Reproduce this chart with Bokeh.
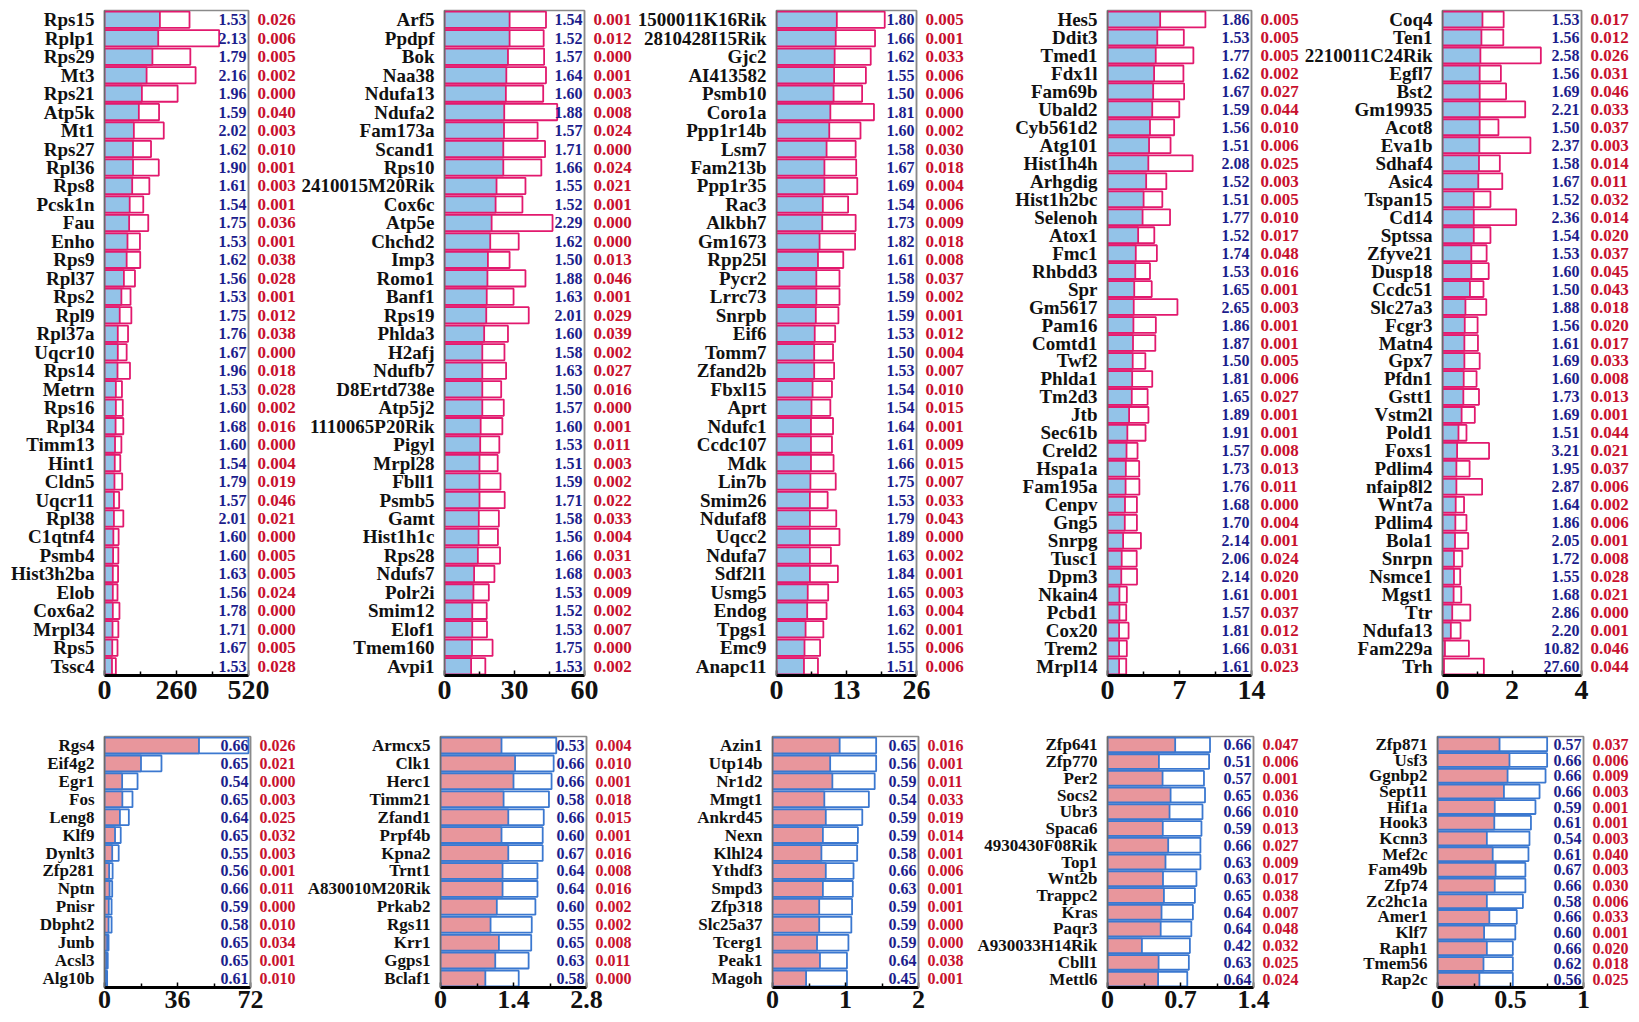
from bokeh.plotting import figure
from bokeh.models import Range1d, FixedTicker, LinearAxis, ColumnDataSource
from bokeh.layouts import row, column
from bokeh.embed import file_html
from bokeh.resources import INLINE
from bokeh.core.properties import value

# ---------------- data: up-regulated (top row) ----------------
p1_genes = ["Rps15", "Rplp1", "Rps29", "Mt3", "Rps21", "Atp5k", "Mt1", "Rps27", "Rpl36", "Rps8",
            "Pcsk1n", "Fau", "Enho", "Rps9", "Rpl37", "Rps2", "Rpl9", "Rpl37a", "Uqcr10", "Rps14",
            "Metrn", "Rps16", "Rpl34", "Timm13", "Hint1", "Cldn5", "Uqcr11", "Rpl38", "C1qtnf4", "Psmb4",
            "Hist3h2ba", "Elob", "Cox6a2", "Mrpl34", "Rps5", "Tssc4"]
p1_ctrl = [200, 194, 173, 152, 135, 124, 106, 103, 103, 100, 91, 89, 83, 80, 70, 61, 55, 48, 48, 47,
           41, 41, 40, 38, 37, 36, 34, 34, 32, 31, 30, 30, 30, 29, 28, 27]
p1_treat = [307, 414, 310, 329, 264, 197, 214, 168, 196, 162, 140, 158, 128, 129, 110, 94, 97, 85, 80, 92,
            63, 66, 68, 61, 57, 64, 53, 68, 51, 50, 49, 47, 54, 50, 47, 41]
p1_fold = [1.53, 2.13, 1.79, 2.16, 1.96, 1.59, 2.02, 1.62, 1.90, 1.61, 1.54, 1.75, 1.53, 1.62, 1.56, 1.53,
           1.75, 1.76, 1.67, 1.96, 1.53, 1.60, 1.68, 1.60, 1.54, 1.79, 1.57, 2.01, 1.60, 1.60, 1.63, 1.56,
           1.78, 1.71, 1.67, 1.53]
p1_p = [0.026, 0.006, 0.005, 0.002, 0.000, 0.040, 0.003, 0.010, 0.001, 0.003, 0.001, 0.036, 0.001, 0.038,
        0.028, 0.001, 0.012, 0.038, 0.000, 0.018, 0.028, 0.002, 0.016, 0.000, 0.004, 0.019, 0.046, 0.021,
        0.000, 0.005, 0.005, 0.024, 0.000, 0.000, 0.005, 0.028]
p1_ticks = [0, 260, 520]

p2_genes = ["Arf5", "Ppdpf", "Bok", "Naa38", "Ndufa13", "Ndufa2", "Fam173a", "Scand1", "Rps10",
            "2410015M20Rik", "Cox6c", "Atp5e", "Chchd2", "Imp3", "Romo1", "Banf1", "Rps19", "Phlda3",
            "H2afj", "Ndufb7", "D8Ertd738e", "Atp5j2", "1110065P20Rik", "Pigyl", "Mrpl28", "Fbll1",
            "Psmb5", "Gamt", "Hist1h1c", "Rps28", "Ndufs7", "Polr2i", "Smim12", "Elof1", "Tmem160", "Avpi1"]
p2_ctrl = [27.9, 27.9, 27.2, 26.5, 26.3, 25.6, 25.5, 25.2, 25.2, 22.3, 21.9, 20.2, 19.6, 18.6, 18.4, 18.1,
           17.9, 17.0, 16.2, 16.2, 16.2, 16.2, 15.5, 15.3, 15.0, 15.0, 15.0, 14.7, 14.6, 14.3, 12.7, 12.4,
           11.9, 11.9, 11.8, 11.4]
p2_treat = [43.5, 42.5, 42.7, 43.5, 42.3, 48.3, 39.9, 43.1, 41.5, 34.7, 33.4, 46.3, 31.8, 27.9, 34.7, 29.6,
            36.1, 27.2, 25.7, 26.4, 24.3, 25.4, 24.8, 23.5, 22.8, 24.0, 25.8, 23.3, 22.9, 23.8, 21.4, 19.0,
            18.1, 18.2, 20.6, 17.5]
p2_fold = [1.54, 1.52, 1.57, 1.64, 1.60, 1.88, 1.57, 1.71, 1.66, 1.55, 1.52, 2.29, 1.62, 1.50, 1.88, 1.63,
           2.01, 1.60, 1.58, 1.63, 1.50, 1.57, 1.60, 1.53, 1.51, 1.59, 1.71, 1.58, 1.56, 1.66, 1.68, 1.53,
           1.52, 1.53, 1.75, 1.53]
p2_p = [0.001, 0.012, 0.000, 0.001, 0.003, 0.008, 0.024, 0.000, 0.024, 0.021, 0.001, 0.000, 0.000, 0.013,
        0.046, 0.001, 0.029, 0.039, 0.002, 0.027, 0.016, 0.000, 0.001, 0.011, 0.003, 0.002, 0.022, 0.033,
        0.004, 0.031, 0.003, 0.009, 0.002, 0.007, 0.000, 0.002]
p2_ticks = [0, 30, 60]

p3_genes = ["1500011K16Rik", "2810428I15Rik", "Gjc2", "AI413582", "Psmb10", "Coro1a", "Ppp1r14b", "Lsm7",
            "Fam213b", "Ppp1r35", "Rac3", "Alkbh7", "Gm1673", "Rpp25l", "Pycr2", "Lrrc73", "Snrpb", "Eif6",
            "Tomm7", "Zfand2b", "Fbxl15", "Aprt", "Ndufc1", "Ccdc107", "Mdk", "Lin7b", "Smim26", "Ndufaf8",
            "Uqcc2", "Ndufa7", "Sdf2l1", "Usmg5", "Endog", "Tpgs1", "Emc9", "Anapc11"]
p3_ctrl = [11.2, 11.0, 10.8, 10.7, 10.6, 10.0, 9.8, 9.3, 8.9, 8.9, 8.6, 8.5, 8.0, 7.7, 7.4, 7.4, 7.3, 7.1,
           7.0, 7.0, 6.7, 6.5, 6.4, 6.4, 6.4, 6.3, 6.2, 6.2, 6.2, 6.2, 6.2, 5.8, 5.7, 5.4, 5.2, 5.1]
p3_treat = [20.1, 18.3, 17.5, 16.6, 15.9, 18.1, 15.6, 14.7, 14.8, 15.0, 13.3, 14.7, 14.6, 12.4, 11.7, 11.7,
            11.5, 10.9, 10.5, 10.7, 10.3, 10.0, 10.5, 10.3, 10.6, 11.0, 9.5, 11.1, 11.7, 10.1, 11.4, 9.6,
            9.3, 8.7, 8.1, 7.7]
p3_fold = [1.80, 1.66, 1.62, 1.55, 1.50, 1.81, 1.60, 1.58, 1.67, 1.69, 1.54, 1.73, 1.82, 1.61, 1.58, 1.59,
           1.59, 1.53, 1.50, 1.53, 1.54, 1.54, 1.64, 1.61, 1.66, 1.75, 1.53, 1.79, 1.89, 1.63, 1.84, 1.65,
           1.63, 1.62, 1.55, 1.51]
p3_p = [0.005, 0.001, 0.033, 0.006, 0.006, 0.000, 0.002, 0.030, 0.018, 0.004, 0.006, 0.009, 0.018, 0.008,
        0.037, 0.002, 0.001, 0.012, 0.004, 0.007, 0.010, 0.015, 0.001, 0.009, 0.015, 0.007, 0.033, 0.043,
        0.000, 0.002, 0.001, 0.003, 0.004, 0.001, 0.006, 0.006]
p3_ticks = [0, 13, 26]

p4_genes = ["Hes5", "Ddit3", "Tmed1", "Fdx1l", "Fam69b", "Ubald2", "Cyb561d2", "Atg101", "Hist1h4h",
            "Arhgdig", "Hist1h2bc", "Selenoh", "Atox1", "Fmc1", "Rhbdd3", "Spr", "Gm5617", "Pam16", "Comtd1",
            "Twf2", "Phlda1", "Tm2d3", "Jtb", "Sec61b", "Creld2", "Hspa1a", "Fam195a", "Cenpv", "Gng5",
            "Snrpg", "Tusc1", "Dpm3", "Nkain4", "Pcbd1", "Cox20", "Trem2", "Mrpl14"]
p4_ctrl = [5.12, 4.84, 4.69, 4.53, 4.44, 4.35, 4.13, 4.04, 3.97, 3.76, 3.51, 3.41, 2.98, 2.75, 2.70, 2.60,
           2.55, 2.52, 2.48, 2.45, 2.40, 2.36, 2.10, 1.93, 1.85, 1.78, 1.76, 1.70, 1.68, 1.52, 1.38, 1.34,
           1.16, 1.16, 1.13, 1.13, 1.13]
p4_treat = [9.52, 7.42, 8.35, 7.38, 7.45, 6.98, 6.48, 6.13, 8.28, 5.72, 5.33, 6.08, 4.55, 4.80, 4.13, 4.30,
            6.80, 4.70, 4.65, 3.68, 4.35, 3.90, 3.98, 3.70, 2.92, 3.08, 3.10, 2.86, 2.86, 3.25, 2.84, 2.87,
            1.88, 1.82, 2.05, 1.88, 1.82]
p4_fold = [1.86, 1.53, 1.77, 1.62, 1.67, 1.59, 1.56, 1.51, 2.08, 1.52, 1.51, 1.77, 1.52, 1.74, 1.53, 1.65,
           2.65, 1.86, 1.87, 1.50, 1.81, 1.65, 1.89, 1.91, 1.57, 1.73, 1.76, 1.68, 1.70, 2.14, 2.06, 2.14,
           1.61, 1.57, 1.81, 1.66, 1.61]
p4_p = [0.005, 0.005, 0.005, 0.002, 0.027, 0.044, 0.010, 0.006, 0.025, 0.003, 0.005, 0.010, 0.017, 0.048,
        0.016, 0.001, 0.003, 0.001, 0.001, 0.005, 0.006, 0.027, 0.001, 0.001, 0.008, 0.013, 0.011, 0.000,
        0.004, 0.001, 0.024, 0.020, 0.001, 0.037, 0.012, 0.031, 0.023]
p4_ticks = [0, 7, 14]

p5_genes = ["Coq4", "Ten1", "2210011C24Rik", "Egfl7", "Bst2", "Gm19935", "Acot8", "Eva1b", "Sdhaf4",
            "Asic4", "Tspan15", "Cd14", "Sptssa", "Zfyve21", "Dusp18", "Ccdc51", "Slc27a3", "Fcgr3", "Matn4",
            "Gpx7", "Pfdn1", "Gstt1", "Vstm2l", "Pold1", "Foxs1", "Pdlim4", "nfaip8l2", "Wnt7a", "Pdlim4",
            "Bola1", "Snrpn", "Nsmce1", "Mgst1", "Ttr", "Ndufa13", "Fam229a", "Trh"]
p5_ctrl = [1.15, 1.12, 1.09, 1.07, 1.07, 1.07, 1.07, 1.06, 1.05, 1.03, 0.90, 0.90, 0.90, 0.83, 0.83, 0.79,
           0.66, 0.64, 0.63, 0.63, 0.61, 0.60, 0.55, 0.46, 0.42, 0.40, 0.40, 0.38, 0.37, 0.36, 0.33, 0.33,
           0.32, 0.28, 0.24, 0.07, 0.043]
p5_treat = [1.76, 1.75, 2.83, 1.68, 1.83, 2.38, 1.61, 2.53, 1.65, 1.72, 1.38, 2.12, 1.38, 1.27, 1.33, 1.18,
            1.26, 1.01, 1.02, 1.07, 0.98, 1.05, 0.93, 0.69, 1.34, 0.78, 1.14, 0.62, 0.69, 0.74, 0.57, 0.51,
            0.54, 0.80, 0.52, 0.76, 1.19]
p5_fold = [1.53, 1.56, 2.58, 1.56, 1.69, 2.21, 1.50, 2.37, 1.58, 1.67, 1.52, 2.36, 1.54, 1.53, 1.60, 1.50,
           1.88, 1.56, 1.61, 1.69, 1.60, 1.73, 1.69, 1.51, 3.21, 1.95, 2.87, 1.64, 1.86, 2.05, 1.72, 1.55,
           1.68, 2.86, 2.20, 10.82, 27.60]
p5_p = [0.017, 0.012, 0.026, 0.031, 0.046, 0.033, 0.037, 0.003, 0.014, 0.011, 0.032, 0.014, 0.020, 0.037,
        0.045, 0.043, 0.018, 0.020, 0.017, 0.033, 0.008, 0.013, 0.001, 0.044, 0.021, 0.037, 0.006, 0.002,
        0.006, 0.001, 0.008, 0.028, 0.021, 0.000, 0.001, 0.046, 0.044]
p5_ticks = [0, 2, 4]

# ---------------- data: down-regulated (bottom row) ----------------
p6_genes = ["Rgs4", "Eif4g2", "Egr1", "Fos", "Leng8", "Klf9", "Dynlt3", "Zfp281", "Nptn", "Pnisr",
            "Dbpht2", "Junb", "Acsl3", "Alg10b"]
p6_ctrl = [71.0, 28.1, 16.3, 13.8, 12.0, 8.0, 7.0, 4.0, 3.8, 3.5, 3.5, 2.0, 1.6, 1.3]
p6_treat = [46.6, 18.0, 8.7, 8.8, 7.6, 5.2, 3.8, 2.3, 2.5, 2.1, 2.0, 1.3, 1.0, 0.8]
p6_fold = [0.66, 0.65, 0.54, 0.65, 0.64, 0.65, 0.55, 0.56, 0.66, 0.59, 0.58, 0.65, 0.65, 0.61]
p6_p = [0.026, 0.021, 0.000, 0.003, 0.025, 0.032, 0.003, 0.001, 0.011, 0.000, 0.010, 0.034, 0.001, 0.010]
p6_ticks = [0, 36, 72]

p7_genes = ["Armcx5", "Clk1", "Herc1", "Timm21", "Zfand1", "Prpf4b", "Kpna2", "Trnt1", "A830010M20Rik",
            "Prkab2", "Rgs11", "Krr1", "Ggps1", "Bclaf1"]
p7_ctrl = [2.22, 2.17, 2.13, 2.08, 1.98, 1.96, 1.96, 1.86, 1.86, 1.82, 1.75, 1.74, 1.69, 1.50]
p7_treat = [1.17, 1.43, 1.40, 1.21, 1.30, 1.17, 1.30, 1.19, 1.19, 1.08, 0.96, 1.12, 1.05, 0.86]
p7_fold = [0.53, 0.66, 0.66, 0.58, 0.66, 0.60, 0.67, 0.64, 0.64, 0.60, 0.55, 0.65, 0.63, 0.58]
p7_p = [0.004, 0.010, 0.001, 0.018, 0.015, 0.001, 0.016, 0.008, 0.016, 0.002, 0.002, 0.008, 0.011, 0.000]
p7_ticks = [0, 1.4, 2.8]

p8_genes = ["Azin1", "Utp14b", "Nr1d2", "Mmgt1", "Ankrd45", "Nexn", "Klhl24", "Ythdf3", "Smpd3", "Zfp318",
            "Slc25a37", "Tcerg1", "Peak1", "Magoh"]
p8_ctrl = [1.42, 1.42, 1.40, 1.32, 1.23, 1.17, 1.16, 1.11, 1.10, 1.09, 1.08, 1.04, 1.02, 1.02]
p8_treat = [0.92, 0.79, 0.82, 0.71, 0.73, 0.69, 0.67, 0.73, 0.69, 0.64, 0.64, 0.61, 0.65, 0.46]
p8_fold = [0.65, 0.56, 0.59, 0.54, 0.59, 0.59, 0.58, 0.66, 0.63, 0.59, 0.59, 0.59, 0.64, 0.45]
p8_p = [0.016, 0.001, 0.011, 0.033, 0.019, 0.014, 0.001, 0.006, 0.001, 0.001, 0.000, 0.000, 0.038, 0.001]
p8_ticks = [0, 1, 2]

p9_genes = ["Zfp641", "Zfp770", "Per2", "Socs2", "Ubr3", "Spaca6", "4930430F08Rik", "Top1", "Wnt2b",
            "Trappc2", "Kras", "Paqr3", "A930033H14Rik", "Cbll1", "Mettl6"]
p9_ctrl = [0.983, 0.974, 0.925, 0.935, 0.911, 0.901, 0.891, 0.891, 0.853, 0.838, 0.819, 0.804, 0.790,
           0.780, 0.765]
p9_treat = [0.649, 0.493, 0.528, 0.605, 0.595, 0.530, 0.582, 0.556, 0.532, 0.541, 0.518, 0.510, 0.330,
            0.490, 0.485]
p9_fold = [0.66, 0.51, 0.57, 0.65, 0.66, 0.59, 0.66, 0.63, 0.63, 0.65, 0.64, 0.64, 0.42, 0.63, 0.64]
p9_p = [0.047, 0.006, 0.001, 0.036, 0.010, 0.013, 0.027, 0.009, 0.017, 0.038, 0.007, 0.048, 0.032, 0.025,
        0.024]
p9_ticks = [0, 0.7, 1.4]

p10_genes = ["Zfp871", "Usf3", "Ggnbp2", "Sept11", "Hif1a", "Hook3", "Kcnn3", "Mef2c", "Fam49b", "Zfp74",
             "Zc2hc1a", "Amer1", "Klf7", "Raph1", "Tmem56", "Rap2c"]
p10_ctrl = [0.751, 0.751, 0.740, 0.699, 0.671, 0.640, 0.630, 0.623, 0.602, 0.602, 0.585, 0.543, 0.533,
            0.516, 0.516, 0.516]
p10_treat = [0.425, 0.493, 0.480, 0.455, 0.392, 0.389, 0.338, 0.378, 0.398, 0.392, 0.338, 0.355, 0.319,
             0.338, 0.315, 0.287]
p10_fold = [0.57, 0.66, 0.66, 0.66, 0.59, 0.61, 0.54, 0.61, 0.67, 0.66, 0.58, 0.66, 0.60, 0.66, 0.62, 0.56]
p10_p = [0.037, 0.006, 0.009, 0.003, 0.001, 0.001, 0.003, 0.040, 0.003, 0.030, 0.006, 0.033, 0.001, 0.020,
         0.018, 0.025]
p10_ticks = [0, 0.5, 1]

# ---------------- styling ----------------
FONT = "Liberation Serif"
LIGHT_BLUE = "#93c3e8"
PINK_LINE = "#e2196e"
SALMON = "#e8969c"
BLUE_LINE = "#3b78d0"
NAVY = "#1d1d8c"
RED = "#c8102e"


def fmt_tick(t):
    return ("%g" % t)


def make_panel(genes, fill_vals, outline_vals, fold, pvals, ticks, fill_col, line_col,
               width, height, bl, br, bt, bb, lab_size, fold_size, p_size, tick_size, tick_standoff):
    n = len(genes)
    xmax = ticks[-1]
    p = figure(width=width, height=height, x_range=Range1d(0, xmax),
               y_range=Range1d(n - 0.5, -0.5), output_backend="svg", toolbar_location=None,
               min_border_left=bl, min_border_right=br, min_border_top=bt, min_border_bottom=bb,
               background_fill_color="white", border_fill_color="white")
    p.grid.visible = False
    p.outline_line_color = "#8a8a8a"
    p.outline_line_width = 1.5

    src = ColumnDataSource(dict(
        y=list(range(n)), fillv=fill_vals, outv=outline_vals,
        fold_s=["%.2f" % f for f in fold]))
    p.hbar(y="y", left=0, right="outv", height=0.88, fill_color="white",
           line_color=line_col, line_width=1.8, source=src)
    p.hbar(y="y", left=0, right="fillv", height=0.88, fill_color=fill_col,
           line_color=line_col, line_width=1.8, source=src)
    p.text(x=xmax, y="y", text="fold_s", text_align="right", text_baseline="middle",
           x_offset=-2, text_font=value(FONT), text_font_style="bold",
           text_font_size=fold_size, text_color=NAVY, source=src)

    # left axis: gene names
    yax = p.yaxis[0]
    yax.ticker = FixedTicker(ticks=list(range(n)))
    yax.major_label_overrides = {i: g for i, g in enumerate(genes)}
    yax.major_tick_line_color = None
    yax.minor_tick_line_color = None
    yax.axis_line_color = "#6a6a6a"
    yax.axis_line_width = 1.5
    yax.major_label_standoff = 4
    yax.major_label_text_font = FONT
    yax.major_label_text_font_style = "bold"
    yax.major_label_text_font_size = lab_size
    yax.major_label_text_color = "#111111"

    # right axis: p-values
    rax = LinearAxis(ticker=FixedTicker(ticks=list(range(n))),
                     major_label_overrides={i: "%.3f" % v for i, v in enumerate(pvals)})
    rax.major_tick_line_color = None
    rax.minor_tick_line_color = None
    rax.axis_line_color = "#8a8a8a"
    rax.axis_line_width = 1.5
    rax.major_label_standoff = 3
    rax.major_label_text_font = FONT
    rax.major_label_text_font_style = "bold"
    rax.major_label_text_font_size = p_size
    rax.major_label_text_color = RED
    p.add_layout(rax, "right")

    # bottom axis
    xax = p.xaxis[0]
    minors = [(ticks[0] + ticks[1]) / 2.0, (ticks[1] + ticks[2]) / 2.0]
    xax.ticker = FixedTicker(ticks=ticks, minor_ticks=minors)
    xax.major_label_overrides = {t: fmt_tick(t) for t in ticks}
    xax.axis_line_color = "black"
    xax.axis_line_width = 3
    xax.major_tick_in = 5
    xax.major_tick_out = 0
    xax.minor_tick_in = 4
    xax.minor_tick_out = 0
    xax.major_tick_line_color = "black"
    xax.minor_tick_line_color = "black"
    xax.major_tick_line_width = 1.5
    xax.minor_tick_line_width = 1.5
    xax.major_label_standoff = tick_standoff
    xax.major_label_text_font = FONT
    xax.major_label_text_font_style = "bold"
    xax.major_label_text_font_size = tick_size
    xax.major_label_text_color = "#111111"
    return p


left_b = [104, 142, 138, 141, 136]
right_b = [44, 44, 44, 44, 44]
widths = [l + 150 + r for l, r in zip(left_b, right_b)]

top_data = [
    (p1_genes, p1_ctrl, p1_treat, p1_fold, p1_p, p1_ticks),
    (p2_genes, p2_ctrl, p2_treat, p2_fold, p2_p, p2_ticks),
    (p3_genes, p3_ctrl, p3_treat, p3_fold, p3_p, p3_ticks),
    (p4_genes, p4_ctrl, p4_treat, p4_fold, p4_p, p4_ticks),
    (p5_genes, p5_ctrl, p5_treat, p5_fold, p5_p, p5_ticks),
]
bottom_data = [
    (p6_genes, p6_treat, p6_ctrl, p6_fold, p6_p, p6_ticks),
    (p7_genes, p7_treat, p7_ctrl, p7_fold, p7_p, p7_ticks),
    (p8_genes, p8_treat, p8_ctrl, p8_fold, p8_p, p8_ticks),
    (p9_genes, p9_treat, p9_ctrl, p9_fold, p9_p, p9_ticks),
    (p10_genes, p10_treat, p10_ctrl, p10_fold, p10_p, p10_ticks),
]

top_figs = []
for k, (g, f, o, fc, pv, tk) in enumerate(top_data):
    top_figs.append(make_panel(g, f, o, fc, pv, tk, LIGHT_BLUE, PINK_LINE,
                               widths[k], 731, left_b[k], right_b[k], 10, 56,
                               "19px", "16px", "17px", "28px", 5))

bottom_figs = []
for k, (g, f, o, fc, pv, tk) in enumerate(bottom_data):
    bottom_figs.append(make_panel(g, f, o, fc, pv, tk, SALMON, BLUE_LINE,
                                  widths[k], 289, left_b[k], right_b[k], 5, 33,
                                  "17px", "16px", "16px", "26px", 3))

layout = column(row(*top_figs, spacing=0), row(*bottom_figs, spacing=0), spacing=0)

with open("out.html", "w") as fh:
    fh.write(file_html(layout, INLINE))
